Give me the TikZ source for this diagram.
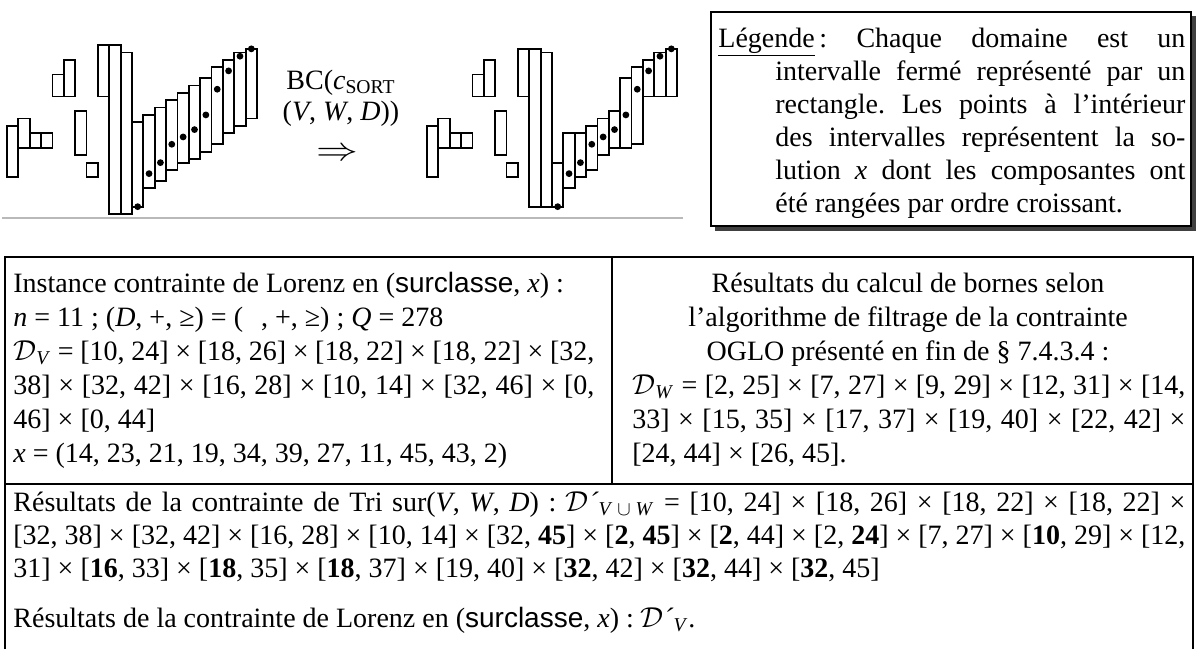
\documentclass[tikz,border=0pt]{standalone}
\usepackage{fontspec}
\setmainfont{Liberation Serif}
\newfontfamily\arialf{Liberation Sans}
\usepackage{graphicx}
\frenchspacing
\begin{document}
\begin{tikzpicture}[x=0.5pt,y=-0.5pt,
  ivbar/.style={draw=black, line width=0.9pt, fill=white},
  tx/.style={inner sep=0pt, anchor=base west, font=\fontsize{14}{16.5}\selectfont},
  txc/.style={inner sep=0pt, anchor=base, font=\fontsize{14}{16.5}\selectfont},
  rulest/.style={line width=1pt, draw=black}]
\useasboundingbox (0,0) rectangle (1197,649);
\def\bw{11.364}
% baseline
\draw[line width=1pt, gray!55] (2,218) -- (683,218);
% left diagram
\foreach \lo/\hi [count=\i from 0] in {10/24,18/26,18/22,18/22,32/38,32/42,16/28,10/14,32/46,0/46,0/44,2/25,7/27,9/29,12/31,14/33,15/35,17/37,19/40,22/42,24/44,26/45}
  \draw[ivbar] ({7+\i*\bw},{214-3.67*\lo}) rectangle ({7+(\i+1)*\bw},{214-3.67*\hi});
\foreach \v [count=\i from 11] in {2,11,14,19,21,23,27,34,39,43,45}
  \fill ({7+(\i+0.5)*\bw},{214-3.67*\v}) circle[radius=1.7pt];
% right diagram
\foreach \lo/\hi [count=\i from 0] in {10/24,18/26,18/22,18/22,32/38,32/42,16/28,10/14,32/45,2/45,2/44,2/14,7/22,10/22,12/24,16/26,18/28,18/37,19/40,32/42,32/44,32/45}
  \draw[ivbar] ({427+\i*\bw},{214-3.67*\lo}) rectangle ({427+(\i+1)*\bw},{214-3.67*\hi});
\foreach \v [count=\i from 11] in {2,11,14,19,21,23,27,34,39,43,45}
  \fill ({427+(\i+0.5)*\bw},{214-3.67*\v}) circle[radius=1.7pt];
% transformation label
\node[txc] (bc) at (341,89) {BC(\textit{c}\textsubscript{SORT}};
\node[txc] (vwd) at (341,120) {(\textit{V}, \textit{W}, \textit{D}))};
\node[inner sep=0pt] (arr) at (337,154) {\fontsize{14}{14}\selectfont\scalebox{1.45}[1.15]{$\Rightarrow$}};
% legend box
\fill[black!75] (715,16) rectangle (1196,231);
\draw[rulest, fill=white] (711,12) rectangle (1191,226);
\node[tx] (lg1) at (718,47) {\makebox[233.5pt][s]{\underline{Légende}\,: Chaque domaine est un}};
\node[tx] (lg2) at (775,80) {\makebox[205pt][s]{intervalle fermé représenté par un}};
\node[tx] (lg3) at (775,113) {\makebox[205pt][s]{rectangle. Les points à l’intérieur}};
\node[tx] (lg4) at (775,146) {\makebox[205pt][s]{des intervalles représentent la so-}};
\node[tx] (lg5) at (775,179) {\makebox[205pt][s]{lution \textit{x} dont les composantes ont}};
\node[tx] (lg6) at (775,212) {été rangées par ordre croissant.};
% table
\draw[rulest] (5,649) -- (5,257) -- (1193,257) -- (1193,649);
\draw[rulest] (5,484) -- (1193,484);
\draw[rulest] (612,257) -- (612,484);
\node[tx] (t1) at (13,292) {Instance contrainte de Lorenz en ({\arialf surclasse}, \textit{x}) :};
\node[tx] (t2) at (13,326) {\textit{n} = 11 ; (\textit{D}, +, ≥) = (\hspace*{9pt}, +, ≥) ; \textit{Q} = 278};
\node[tx] (t3) at (13,360) {\makebox[290.5pt][s]{$\mathcal{D}$\textsubscript{\textit{V}} = [10, 24] × [18, 26] × [18, 22] × [18, 22] × [32,}};
\node[tx] (t4) at (13,394) {\makebox[290.5pt][s]{38] × [32, 42] × [16, 28] × [10, 14] × [32, 46] × [0,}};
\node[tx] (t5) at (13,428) {46] × [0, 44]};
\node[tx] (t6) at (13,462) {\textit{x} = (14, 23, 21, 19, 34, 39, 27, 11, 45, 43, 2)};
\node[txc] (r1) at (908,292) {Résultats du calcul de bornes selon};
\node[txc] (r2) at (908,326) {l’algorithme de filtrage de la contrainte};
\node[txc] (r3) at (908,360) {OGLO présenté en fin de § 7.4.3.4 :};
\node[tx] (r4) at (632,394) {\makebox[276.5pt][s]{$\mathcal{D}$\textsubscript{\textit{W}} = [2, 25] × [7, 27] × [9, 29] × [12, 31] × [14,}};
\node[tx] (r5) at (632,428) {\makebox[276.5pt][s]{33] × [15, 35] × [17, 37] × [19, 40] × [22, 42] ×}};
\node[tx] (r6) at (632,462) {[24, 44] × [26, 45].};
\node[tx] (s1) at (13,511) {\makebox[586pt][s]{Résultats de la contrainte de Tri sur(\textit{V}, \textit{W}, \textit{D}) : $\mathcal{D}$\textit{´}\textsubscript{\textit{V} $\cup$ \textit{W}} = [10, 24] × [18, 26] × [18, 22] × [18, 22] ×}};
\node[tx] (s2) at (13,544) {\makebox[586pt][s]{[32, 38] × [32, 42] × [16, 28] × [10, 14] × [32, \textbf{45}] × [\textbf{2}, \textbf{45}] × [\textbf{2}, 44] × [2, \textbf{24}] × [7, 27] × [\textbf{10}, 29] × [12,}};
\node[tx] (s3) at (13,577) {31] × [\textbf{16}, 33] × [\textbf{18}, 35] × [\textbf{18}, 37] × [19, 40] × [\textbf{32}, 42] × [\textbf{32}, 44] × [\textbf{32}, 45]};
\node[tx] (u1) at (13,627) {Résultats de la contrainte de Lorenz en ({\arialf surclasse}, \textit{x}) : $\mathcal{D}$\textit{´}\textsubscript{\textit{V}}.};
\end{tikzpicture}
\end{document}
